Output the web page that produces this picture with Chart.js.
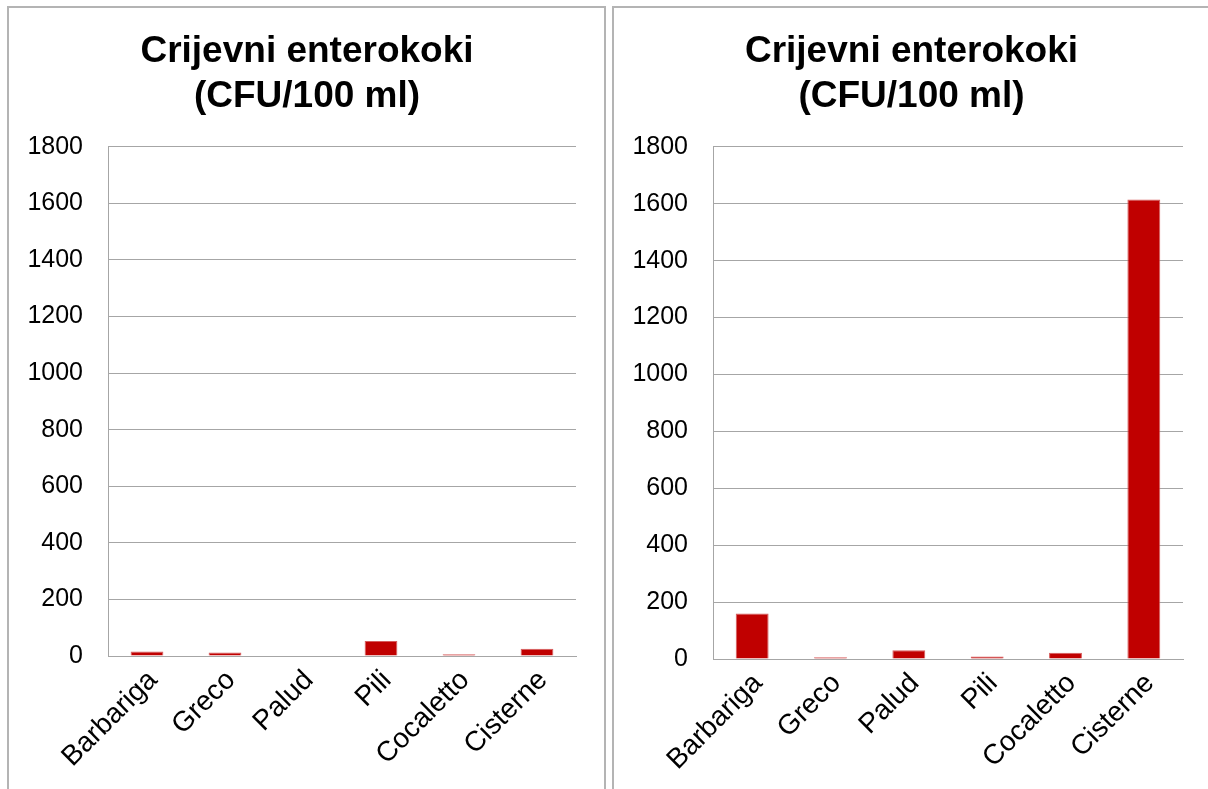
<!DOCTYPE html>
<html>
<head>
<meta charset="UTF-8">
<title>Crijevni enterokoki</title>
<style>
  body { margin: 0; background: #fff; width: 1208px; height: 789px; overflow: hidden; position: relative; }
  .panel { position: absolute; top: 6px; height: 800px; border: 2px solid #b4b4b4; box-sizing: border-box; }
  #p1 { left: 7px; width: 599px; }
  #p2 { left: 612px; width: 620px; }
  canvas { position: absolute; top: 9px; }
  #c1 { left: 10px; }
  #c2 { left: 615px; }
</style>
</head>
<body>
<div class="panel" id="p1"></div>
<div class="panel" id="p2"></div>
<canvas id="c1" width="594" height="780"></canvas>
<canvas id="c2" width="593" height="780"></canvas>

<script src="https://cdn.jsdelivr.net/npm/chart.js@4.4.0/dist/chart.umd.min.js"></script>
<script>
const locations = ['Barbariga', 'Greco', 'Palud', 'Pili', 'Cocaletto', 'Cisterne'];
const leftValues = [16, 12, 0, 53, 6, 26];
const rightValues = [160, 6, 31, 9, 22, 1615];
const yTicks = [0, 200, 400, 600, 800, 1000, 1200, 1400, 1600, 1800];
const titleLines = ['Crijevni enterokoki', '(CFU/100 ml)'];

Chart.defaults.font.family = "'Liberation Sans', Arial, sans-serif";
Chart.defaults.color = '#000';

// centre the title on the whole canvas, not on the padded box
const centerTitle = {
  id: 'centerTitle',
  afterLayout(chart) {
    chart.titleBlock.left = 0;
    chart.titleBlock.right = chart.width;
  }
};

function makeChart(id, values, padRight, xHeight) {
  return new Chart(document.getElementById(id), {
    type: 'bar',
    data: {
      labels: locations,
      datasets: [{
        data: values,
        backgroundColor: '#c00000',
        borderColor: '#d65c5c',
        borderWidth: 1,
        barPercentage: 0.42,
        categoryPercentage: 1
      }]
    },
    options: {
      responsive: false,
      animation: false,
      layout: { padding: { left: 0, right: padRight, top: 0, bottom: 0 } },
      plugins: {
        legend: { display: false },
        tooltip: { enabled: false },
        title: {
          display: true,
          text: titleLines,
          font: { size: 37, weight: 'bold' },
          lineHeight: 1.27,
          padding: { top: 21, bottom: 28 }
        }
      },
      scales: {
        y: {
          min: yTicks[0],
          max: yTicks[yTicks.length - 1],
          afterBuildTicks: (s) => { s.ticks = yTicks.map(v => ({ value: v })); },
          afterFit: (s) => { s.width = 98; },
          grid: { color: '#a6a6a6', drawTicks: false },
          border: { color: '#a6a6a6' },
          ticks: { font: { size: 25 }, padding: 25, callback: (v) => String(v) }
        },
        x: {
          afterFit: (s) => { s.height = xHeight; },
          grid: { display: false, drawTicks: false },
          border: { color: '#a6a6a6' },
          ticks: { font: { size: 28 }, minRotation: 45, maxRotation: 45, padding: 8, labelOffset: 6 }
        }
      }
    },
    plugins: [centerTitle]
  });
}

makeChart('c1', leftValues, 28, 133);
makeChart('c2', rightValues, 25, 130);
</script>
</body>
</html>
